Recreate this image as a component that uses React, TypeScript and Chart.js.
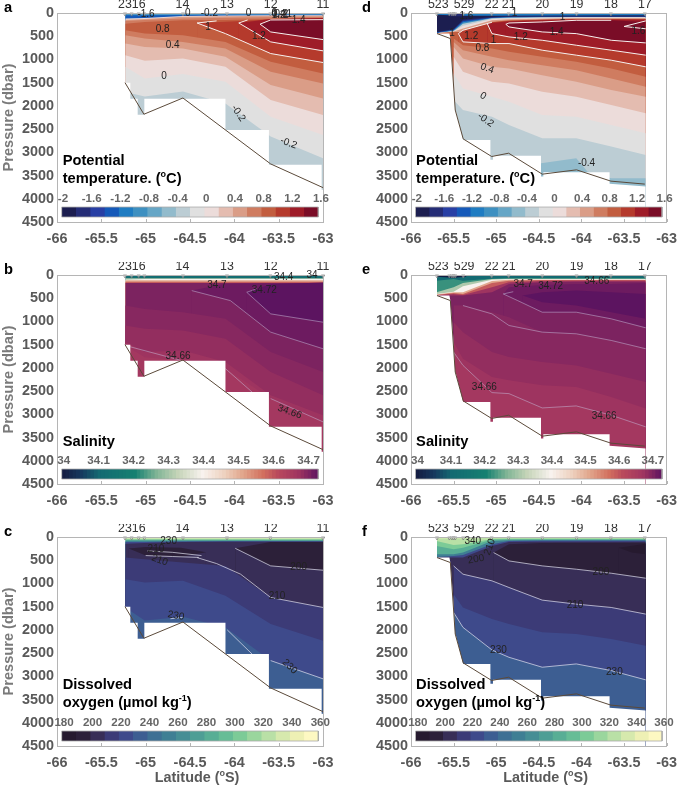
import React, { useEffect, useRef } from "react";
import { Chart, registerables } from "chart.js";

Chart.register(...registerables);

type Edge = [number, number[], number[]];
type Label = [number, number, string, number?];

// ---------- section latitudes ----------
const latsWest = [-65.23, -65.01, -64.58, -64.1, -63.59, -63.0];
const latsEast = [-65.7, -65.5, -65.39, -65.05, -64.85, -64.46, -64.06, -63.65, -63.245];
const latsEast1 = latsEast.slice(1);

// ---------- colour tables ----------
const thetaColors = ["#1c1e50", "#252d76", "#283fa5", "#1559b9", "#1f7cc2", "#3e90c1", "#66a6c6", "#92bbcc", "#bccdd4", "#e0e0e0", "#ecdcda", "#e4bcb0", "#da9d87", "#cf7c60", "#c25d3f", "#b53a2c", "#9e1c28", "#7a0d27"];
const oxyColors = ["#261a2f", "#2c2039", "#382e57", "#3c3b77", "#3e4a8b", "#3d5e92", "#3e7094", "#3f7f94", "#468e95", "#4e9e95", "#58ae95", "#66bd96", "#7ccb97", "#9ad69d", "#b9e0a6", "#d6e9ad", "#eef0b4", "#fdf8c2"];
const salStops: [number, string][] = [[34, "#141d43"], [34.05, "#17395e"], [34.1, "#146a72"], [34.2, "#158071"], [34.26, "#7fb495"], [34.32, "#c5d4b8"], [34.39, "#f8f2ee"], [34.45, "#eed2c0"], [34.5, "#e2a88e"], [34.56, "#d26f5e"], [34.6, "#b94a5c"], [34.65, "#a43860"], [34.66, "#9e3460"], [34.67, "#932e5f"], [34.68, "#872860"], [34.69, "#7c2360"], [34.7, "#6d1b60"], [34.72, "#5c1460"]];

// ---------- panel a: potential temperature, western section ----------
const thetaAEdges: Edge[] = [
  [-0.4, latsWest, [0, 0, 0, 0, 0, 0]],
  [-0.8, latsWest, [22, 22, 22, 22, 22, 22]],
  [-1.2, latsWest, [40, 40, 35, 30, 30, 30]],
  [-1.4, latsWest, [55, 55, 45, 40, 40, 40]],
  [0, latsWest, [120, 110, 65, 55, 50, 50]],
  [0.4, latsWest, [145, 130, 80, 70, 60, 60]],
  [0.6, latsWest, [172, 150, 120, 100, 90, 85]],
  [0.8, latsWest, [229, 193, 157, 150, 130, 120]],
  [1.0, [-64.42, -64.1, -63.59, -63.0], [215, 190, 140, 110]],
  [1.2, [-63.95, -63.59, -63.0], [215, 130, 110]],
  [1.4, [-63.71, -63.59, -63.0], [240, 150, 143]],
  [1.2, [-63.71, -63.59, -63.0], [240, 408, 572]],
  [1.0, [-63.95, -63.59, -63.0], [215, 622, 815]],
  [0.8, [-64.42, -64.1, -63.59, -63.0], [215, 444, 873, 1066]],
  [0.6, latsWest, [372, 444, 479, 622, 1052, 1302]],
  [0.4, latsWest, [479, 551, 622, 765, 1266, 1517]],
  [0.2, latsWest, [658, 730, 765, 944, 1552, 1839]],
  [0, latsWest, [908, 1030, 980, 1159, 1874, 2196]],
  [-0.2, latsWest, [1159, 1409, 1316, 1481, 2232, 2625]],
  [-0.4, latsWest, [1700, 1800, 1690, 1950, 2660, 3125]],
];
const thetaAContours: [number[], number[]][] = [
  [[-64.42, -64.1, -63.59, -63.0], [215, 444, 873, 1066]],
  [[-64.42, -64.2], [215, 170]],
  [[-63.95, -63.59, -63.0], [215, 622, 815]],
  [[-63.95, -63.85], [215, 150]],
  [[-63.71, -63.59, -63.0], [240, 408, 572]],
  [[-63.71, -63.59, -63.0], [240, 150, 143]],
];
const thetaALabels: Label[] = [[-64.996, 29, "-1.6"], [-64.526, 0, "0"], [-64.282, 0, "-0.2"], [-63.839, 0, "0"], [-63.55, 15, "0"], [-63.5, 20, "0.4"], [-63.47, 20, "0.2"], [-63.42, 45, "1"], [-63.4, 30, "-1"], [-63.5, 50, "1.2"], [-64.808, 358, "0.8"], [-64.297, 300, "1"], [-63.722, 501, "1.2"], [-63.275, 157, "1.4"], [-64.696, 694, "0.4"], [-64.793, 1359, "0"], [-63.955, 2160, "-0.2", 55], [-63.387, 2804, "-0.2", 20]];

// ---------- panel d: potential temperature, eastern section ----------
const thetaDEdges: Edge[] = [
  [-2, latsEast, [0, 0, 0, 0, 0, 0, 0, 0, 0]],
  [-1.8, latsEast, [415, 343, 143, 86, 72, 72, 72, 72, 72]],
  [-1.4, latsEast, [422, 358, 172, 100, 86, 79, 79, 79, 79]],
  [-1.0, latsEast, [429, 372, 200, 107, 93, 86, 86, 86, 86]],
  [-0.4, latsEast, [436, 386, 229, 114, 100, 93, 93, 93, 93]],
  [0, latsEast, [436, 393, 272, 129, 114, 100, 93, 93, 93]],
  [0.4, latsEast, [436, 401, 336, 157, 136, 122, 107, 107, 107]],
  [0.8, latsEast, [436, 408, 408, 193, 157, 143, 129, 129, 129]],
  [1.0, [-65.444, -65.39, -65.05, -64.85, -64.46, -64.06, -63.65, -63.245], [444, 372, 200, 172, 143, 129, 129, 136]],
  [1.2, [-65.105, -65.05, -64.85, -64.46, -64.06, -63.65, -63.245], [229, 215, 179, 157, 143, 143, 143]],
  [1.4, [-64.887, -64.85, -64.46, -64.06, -63.65, -63.245], [243, 215, 193, 157, 157, 193]],
  [1.2, [-64.887, -64.85, -64.46, -64.06, -63.65, -63.245], [243, 300, 408, 444, 587, 644]],
  [1.0, [-65.105, -65.05, -64.85, -64.46, -64.06, -63.65, -63.245], [229, 444, 515, 587, 694, 801, 908]],
  [0.8, [-65.444, -65.39, -65.05, -64.85, -64.46, -64.06, -63.65, -63.245], [444, 622, 658, 658, 801, 908, 1016, 1159]],
  [0.6, latsEast1, [551, 694, 765, 837, 944, 1052, 1195, 1374]],
  [0.4, latsEast1, [622, 801, 944, 1016, 1123, 1230, 1409, 1588]],
  [0.2, latsEast1, [730, 980, 1159, 1195, 1338, 1481, 1660, 1803]],
  [0, latsEast1, [944, 1266, 1481, 1517, 1695, 1803, 1982, 2161]],
  [-0.2, latsEast1, [1302, 1624, 1803, 1910, 2196, 2232, 2411, 2590]],
  [-0.4, latsEast1, [1874, 2089, 2232, 2411, 2697, 2697, 2876, 3055]],
  [-0.6, [-64.474, -64.06, -63.93, -63.65, -63.245], [3234, 3126, 3412, 3556, 3556]],
];
const thetaDLids: Edge[] = [
  [-1.2, [-65.7, -65.39, -65.05, -63.245], [40, 60, 60, 50]],
  [-1.8, [-65.55, -65.39], [70, 70]],
  [0.6, [-65.05, -63.65], [18, 18]],
  [1.0, [-64.3, -63.65], [15, 15]],
];
const thetaDContours: [number[], number[]][] = [
  [[-64.887, -64.85, -64.46, -64.06, -63.65, -63.245], [243, 300, 408, 444, 587, 644]],
  [[-64.887, -64.85, -64.46, -64.06, -63.65], [243, 215, 193, 157, 157]],
  [[-65.105, -65.05, -64.85, -64.46, -64.06, -63.65, -63.245], [229, 444, 515, 587, 694, 801, 908]],
  [[-65.444, -65.39, -65.05, -64.85, -64.46, -64.06, -63.65, -63.245], [444, 622, 658, 658, 801, 908, 1016, 1159]],
  [[-65.444, -65.39, -65.05], [444, 372, 200]],
  [[-63.245, -63.5, -63.245], [170, 290, 340]],
];
const thetaDLabels: Label[] = [[-65.35, 72, "1.6"], [-64.786, 14, "1"], [-64.222, 86, "1"], [-65.519, 444, "1"], [-65.293, 494, "1.2"], [-65.03, 587, "1"], [-64.711, 529, "1.2"], [-64.29, 422, "1.4"], [-63.331, 386, "1.6"], [-65.162, 765, "0.8"], [-65.105, 1195, "0.4", 20], [-65.154, 1789, "0", 30], [-65.124, 2304, "-0.2", 35], [-63.94, 3234, "-0.4"]];

// ---------- panel b: salinity, western section ----------
const salBEdges: Edge[] = [
  [34.12, latsWest, [0, 0, 0, 0, 0, 0]],
  [34.3, latsWest, [70, 70, 70, 70, 70, 70]],
  [34.39, latsWest, [100, 86, 86, 86, 86, 86]],
  [34.5, latsWest, [115, 115, 115, 115, 115, 115]],
  [34.58, latsWest, [143, 143, 143, 143, 143, 143]],
  [34.69, latsWest, [172, 172, 172, 172, 172, 172]],
  [34.7, [-64.48, -64.1, -63.59, -63.0], [336, 190, 180, 172]],
  [34.72, [-63.86, -63.59, -63.0], [372, 200, 160]],
  [34.7, [-63.86, -63.59, -63.0], [372, 837, 1016]],
  [34.69, [-64.48, -64.045, -63.59, -63.0], [336, 551, 1230, 1588]],
  [34.68, latsWest, [658, 730, 801, 944, 1660, 2089]],
  [34.67, latsWest, [1087, 1159, 1195, 1374, 2089, 2590]],
  [34.66, latsWest, [1445, 1660, 1624, 1874, 2590, 3019]],
  [34.65, latsWest, [1517, 1770, 1839, 2017, 2661, 3162]],
];
const salBContours: [number[], number[]][] = [
  [[-63.86, -63.59, -63.0], [372, 837, 1016]],
  [[-63.86, -63.75], [372, 300]],
  [[-64.48, -64.045, -63.59, -63.0], [336, 551, 1230, 1588]],
  [[-65.23, -64.6], [1517, 1839]],
  [[-64.1, -63.8], [2017, 2520]],
  [[-63.59, -63.0], [2661, 3162]],
];
const salBLabels: Label[] = [[-63.444, 50, "34.4"], [-63.124, 0, "34"], [-64.196, 215, "34.7"], [-63.662, 322, "34.72"], [-64.635, 1746, "34.66"], [-63.376, 2947, "34.66", 20]];

// ---------- panel e: salinity, eastern section ----------
const salEEdges: Edge[] = [
  [34.1, latsEast, [0, 0, 0, 0, 0, 0, 0, 0, 0]],
  [34.22, latsEast, [122, 86, 122, 79, 72, 72, 72, 72, 72]],
  [34.3, latsEast, [372, 265, 172, 86, 79, 79, 79, 79, 79]],
  [34.39, latsEast, [408, 358, 243, 100, 86, 86, 86, 86, 86]],
  [34.5, latsEast, [422, 372, 372, 129, 100, 100, 100, 100, 100]],
  [34.58, latsEast, [429, 386, 408, 172, 122, 107, 107, 107, 107]],
  [34.66, latsEast, [436, 408, 429, 265, 157, 129, 122, 122, 122]],
  [34.69, latsEast, [444, 444, 444, 372, 193, 157, 143, 143, 143]],
  [34.7, [-64.917, -64.85, -64.46, -64.06, -63.65, -63.245], [408, 265, 215, 193, 193, 172]],
  [34.72, [-64.69, -64.46, -64.06, -63.65, -63.245], [444, 372, 336, 372, 408]],
  [34.7, [-64.69, -64.46, -64.06, -63.65, -63.245], [444, 587, 658, 801, 944]],
  [34.69, [-64.917, -64.748, -64.46, -64.06, -63.65, -63.245], [408, 551, 801, 801, 944, 1137]],
  [34.68, latsEast1, [658, 658, 801, 908, 1230, 1266, 1409, 1588]],
  [34.67, latsEast1, [1016, 1230, 1660, 1767, 1874, 1946, 2125, 2304]],
  [34.66, latsEast1, [1445, 1803, 2196, 2268, 2375, 2411, 2625, 2876]],
  [34.65, latsEast1, [1660, 1946, 2532, 2554, 2862, 2819, 3019, 3270]],
];
const salELids: Edge[] = [[34.0, [-65.7, -65.5, -65.35], [40, 60, 40]]];
const salEContours: [number[], number[]][] = [
  [[-64.917, -64.748, -64.46, -64.06, -63.65, -63.245], [408, 551, 801, 801, 944, 1137]],
  [[-64.917, -64.8], [408, 360]],
  [[-65.39, -65.05, -64.85, -64.46, -64.06, -63.65, -63.245], [658, 837, 1087, 1230, 1266, 1409, 1588]],
  [latsEast1, [1660, 1946, 2532, 2554, 2862, 2819, 3019, 3270]],
];
const salELabels: Label[] = [[-64.684, 193, "34.7"], [-64.361, 250, "34.72"], [-63.82, 136, "34.66"], [-65.139, 2418, "34.66"], [-63.733, 3033, "34.66"]];

// ---------- panel c: dissolved oxygen, western section ----------
const oxyCEdges: Edge[] = [
  [350, latsWest, [0, 0, 0, 0, 0, 0]],
  [310, latsWest, [30, 30, 30, 30, 30, 30]],
  [280, latsWest, [57, 57, 57, 57, 57, 57]],
  [250, latsWest, [79, 79, 79, 79, 79, 79]],
  [220, latsWest, [108, 108, 95, 90, 90, 90]],
  [200, latsWest, [143, 130, 110, 100, 100, 100]],
  [190, [-65.19, -65.0, -64.6, -64.32], [250, 215, 230, 330]],
  [200, [-65.19, -65.0, -64.6, -64.32], [250, 400, 430, 330]],
  [190, [-63.99, -63.59, -63.0], [243, 110, 108]],
  [200, [-63.99, -63.59, -63.0], [243, 622, 715]],
  [210, latsWest, [444, 479, 551, 622, 1302, 1517]],
  [220, latsWest, [908, 980, 944, 1266, 1874, 2232]],
  [230, latsWest, [1517, 1800, 1717, 1946, 2661, 3054]],
];
const oxyCContours: [number[], number[]][] = [
  [[-63.99, -63.59, -63.0], [243, 622, 715]],
  [[-64.42, -64.2, -63.93, -63.59, -63.0], [444, 572, 800, 1302, 1517]],
  [[-64.98, -64.7, -64.37], [300, 330, 400]],
  [[-65.0, -64.7, -64.4], [400, 420, 440]],
  [[-64.72, -64.58], [1760, 1731]],
  [[-64.08, -63.8], [2000, 2520]],
  [[-63.59, -63.0], [2661, 3054]],
];
const oxyCLabels: Label[] = [[-64.741, 100, "230"], [-64.884, 265, "210"], [-64.842, 501, "210", 20], [-63.275, 644, "200"], [-63.519, 1266, "210"], [-64.658, 1695, "230", 10], [-63.376, 2790, "230", 45]];

// ---------- panel f: dissolved oxygen, eastern section ----------
const oxyFEdges: Edge[] = [
  [350, latsEast, [0, 0, 0, 0, 0, 0, 0, 0, 0]],
  [320, latsEast, [25, 25, 25, 22, 22, 22, 22, 22, 22]],
  [300, latsEast, [86, 172, 157, 43, 36, 36, 36, 36, 36]],
  [280, latsEast, [193, 265, 229, 57, 50, 50, 50, 50, 50]],
  [250, latsEast, [372, 372, 336, 86, 72, 64, 64, 64, 64]],
  [220, latsEast, [429, 408, 386, 157, 86, 79, 79, 79, 79]],
  [200, latsEast, [444, 444, 444, 193, 107, 100, 100, 100, 100]],
  [190, [-65.03, -64.85, -64.46, -63.245], [336, 157, 129, 122]],
  [180, [-63.56, -63.245], [229, 143]],
  [190, [-63.56, -63.41, -63.245], [229, 336, 372]],
  [200, [-65.03, -64.85, -64.46, -64.06, -63.65, -63.245], [336, 515, 622, 694, 780, 887]],
  [210, latsEast1, [622, 801, 944, 1087, 1359, 1445, 1517, 1660]],
  [220, latsEast1, [1230, 1517, 1767, 1874, 2053, 2089, 2196, 2339]],
  [230, latsEast1, [1624, 1946, 2432, 2590, 2804, 2733, 2876, 3076]],
];
const oxyFContours: [number[], number[]][] = [
  [[-65.03, -64.85, -64.46, -64.06, -63.65, -63.245], [336, 515, 622, 694, 780, 887]],
  [latsEast1, [622, 801, 944, 1087, 1359, 1445, 1517, 1660]],
  [latsEast1, [1624, 1946, 2432, 2590, 2804, 2733, 2876, 3076]],
];
const oxyFLabels: Label[] = [[-65.275, 100, "340"], [-65.075, 215, "210", -70], [-65.237, 479, "200", -10], [-63.771, 765, "200"], [-64.075, 1459, "210"], [-64.974, 2447, "230"], [-63.613, 2912, "230"]];

// ---------- stations ----------
const stationsWest = [-65.233, -65.158, -65.079, -65.015, -64.579, -64.083, -63.594, -63.0];
const stationsEast = [-65.695, -65.55, -65.52, -65.5, -65.48, -65.387, -65.053, -64.854, -64.459, -64.057, -63.654, -63.256];
const stationTicksWest = [-65.233, -65.079, -64.585, -64.083, -63.59, -63.0];
const stationNamesWest = ["23", "16", "14", "13", "12", "11"];
const stationTicksEast = [-65.68, -65.376, -65.053, -64.854, -64.459, -64.057, -63.654, -63.256];
const stationNamesEast = ["523", "529", "22", "21", "20", "19", "18", "17"];

// ---------- sea floor and blanked cells ----------
const bathyWestLat = [-65.233, -65.02, -64.58, -63.59, -63.0];
const bathyWestP = [1500, 2180, 1830, 3250, 3760];
const bathyEastLat = [-65.695, -65.538, -65.481, -65.387, -65.053, -64.854, -64.459, -64.057, -63.654, -63.256];
const bathyEastP = [443, 550, 2089, 2711, 3090, 3019, 3470, 3377, 3620, 3684];
const blankWestLat = [-66, -65.233, -65.233, -65.173, -65.173, -65.09, -65.09, -65.015, -65.015, -64.1, -64.1, -63.61, -63.61, -63.015, -63.015, -63];
const blankWestP = [0, 0, 1502, 1502, 1845, 1845, 2190, 2190, 1845, 1845, 2518, 2518, 3270, 3270, 3806, 3806];
const blankEastLat = [-66, -65.695, -65.695, -65.549, -65.538, -65.508, -65.481, -65.474, -65.474, -65.387, -65.068, -65.068, -65.038, -65.038, -64.474, -64.474, -64.447, -64.447, -63.669, -63.669, -63.245];
const blankEastP = [0, 0, 444, 444, 551, 1230, 2089, 2110, 2110, 2733, 2733, 3162, 3162, 3076, 3076, 3520, 3520, 3427, 3427, 3677, 3734];

// ---------- colour bar ticks ----------
const thetaTicks = ["-2", "-1.6", "-1.2", "-0.8", "-0.4", "0", "0.4", "0.8", "1.2", "1.6"];
const salTicks = ["34", "34.1", "34.2", "34.3", "34.4", "34.5", "34.6", "34.7"];
const oxyTicks = ["180", "200", "220", "240", "260", "280", "300", "320", "340", "360"];
const thetaLevels = Array.from({ length: 18 }, (_, i) => -2 + i * 0.2);
const oxyLevels = Array.from({ length: 18 }, (_, i) => 180 + i * 10);
const salLevels = Array.from({ length: 72 }, (_, i) => 34 + i * 0.01);

// ---------- helpers ----------
const thetaColor = (v: number) => thetaColors[Math.max(0, Math.min(17, Math.round((v + 2) * 5)))];
const oxyColor = (v: number) => oxyColors[Math.max(0, Math.min(17, Math.round((v - 180) / 10)))];
const hex = (c: string) => [1, 3, 5].map((i) => parseInt(c.slice(i, i + 2), 16));
const salColor = (v: number) => {
  for (let i = 0; i < salStops.length - 1; i++) {
    const [a, ca] = salStops[i];
    const [b, cb] = salStops[i + 1];
    if (v <= b + 1e-9) {
      const t = Math.max(0, (v - a) / (b - a));
      const A = hex(ca);
      const B = hex(cb);
      return `rgb(${A.map((q, k) => Math.round(q + (B[k] - q) * t)).join(",")})`;
    }
  }
  return salStops[salStops.length - 1][1];
};
const zip = (xs: number[], ys: number[]) => xs.map((x, i) => ({ x, y: ys[i] }));
const AXIS = "#b5b5b5";
const GRAY = "#595959";
const SANS = "'Liberation Sans', Arial, sans-serif";

type PanelCfg = {
  letter: string;
  left: number;
  top: number;
  width: number;
  axisLeft: number;
  padRight: number;
  letterX: number;
  yTitle: boolean;
  xTitle: boolean;
  edges: Edge[];
  lids: Edge[];
  color: (v: number) => string;
  contours: [number[], number[]][];
  contourColor: string;
  labels: Label[];
  levels: number[];
  cbTicks: string[];
  cbTickLat: [number, number];
  stations: number[];
  stationTicks: number[];
  stationNames: string[];
  bathyLat: number[];
  bathyP: number[];
  blankLat: number[];
  blankP: number[];
  title: string[][];
  titleLat: number;
  titleP: number[];
};

const SAL_LINE = "rgba(200,190,220,0.5)";
const OXY_LINE = "rgba(225,225,240,0.7)";
const THETA_LINE = "#f6f0ee";

const panels: PanelCfg[] = [
  { letter: "a", left: 0, top: 0, width: 342, axisLeft: 57, padRight: 19, letterX: 4, yTitle: true, xTitle: false, edges: thetaAEdges, lids: [], color: thetaColor, contours: thetaAContours, contourColor: THETA_LINE, labels: thetaALabels, levels: thetaLevels, cbTicks: thetaTicks, cbTickLat: [-65.932, -63.023], stations: stationsWest, stationTicks: stationTicksWest, stationNames: stationNamesWest, bathyLat: bathyWestLat, bathyP: bathyWestP, blankLat: blankWestLat, blankP: blankWestP, title: [["Potential"], ["temperature. (", "o", "C)"]], titleLat: -65.936, titleP: [3176, 3570] },
  { letter: "b", left: 0, top: 262, width: 342, axisLeft: 57, padRight: 19, letterX: 4, yTitle: true, xTitle: false, edges: salBEdges, lids: [], color: salColor, contours: salBContours, contourColor: SAL_LINE, labels: salBLabels, levels: salLevels, cbTicks: salTicks, cbTickLat: [-65.925, -63.162], stations: stationsWest, stationTicks: stationTicksWest, stationNames: stationNamesWest, bathyLat: bathyWestLat, bathyP: bathyWestP, blankLat: blankWestLat, blankP: blankWestP, title: [["Salinity"]], titleLat: -65.936, titleP: [3591] },
  { letter: "c", left: 0, top: 524, width: 342, axisLeft: 57, padRight: 19, letterX: 4, yTitle: true, xTitle: true, edges: oxyCEdges, lids: [], color: oxyColor, contours: oxyCContours, contourColor: OXY_LINE, labels: oxyCLabels, levels: oxyLevels, cbTicks: oxyTicks, cbTickLat: [-65.92, -63.03], stations: stationsWest, stationTicks: stationTicksWest, stationNames: stationNamesWest, bathyLat: bathyWestLat, bathyP: bathyWestP, blankLat: blankWestLat, blankP: blankWestP, title: [["Dissolved"], ["oxygen (µmol kg", "-1", ")"]], titleLat: -65.936, titleP: [3176, 3570] },
  { letter: "d", left: 342, top: 0, width: 343, axisLeft: 69, padRight: 9, letterX: 20, yTitle: false, xTitle: false, edges: thetaDEdges, lids: thetaDLids, color: thetaColor, contours: thetaDContours, contourColor: THETA_LINE, labels: thetaDLabels, levels: thetaLevels, cbTicks: thetaTicks, cbTickLat: [-65.932, -63.023], stations: stationsEast, stationTicks: stationTicksEast, stationNames: stationNamesEast, bathyLat: bathyEastLat, bathyP: bathyEastP, blankLat: blankEastLat, blankP: blankEastP, title: [["Potential"], ["temperature. (", "o", "C)"]], titleLat: -65.94, titleP: [3176, 3570] },
  { letter: "e", left: 342, top: 262, width: 343, axisLeft: 69, padRight: 9, letterX: 20, yTitle: false, xTitle: false, edges: salEEdges, lids: salELids, color: salColor, contours: salEContours, contourColor: SAL_LINE, labels: salELabels, levels: salLevels, cbTicks: salTicks, cbTickLat: [-65.925, -63.162], stations: stationsEast, stationTicks: stationTicksEast, stationNames: stationNamesEast, bathyLat: bathyEastLat, bathyP: bathyEastP, blankLat: blankEastLat, blankP: blankEastP, title: [["Salinity"]], titleLat: -65.94, titleP: [3591] },
  { letter: "f", left: 342, top: 524, width: 343, axisLeft: 69, padRight: 9, letterX: 20, yTitle: false, xTitle: true, edges: oxyFEdges, lids: [], color: oxyColor, contours: oxyFContours, contourColor: OXY_LINE, labels: oxyFLabels, levels: oxyLevels, cbTicks: oxyTicks, cbTickLat: [-65.92, -63.03], stations: stationsEast, stationTicks: stationTicksEast, stationNames: stationNamesEast, bathyLat: bathyEastLat, bathyP: bathyEastP, blankLat: blankEastLat, blankP: blankEastP, title: [["Dissolved"], ["oxygen (µmol kg", "-1", ")"]], titleLat: -65.94, titleP: [3176, 3570] },
];

const CB_LEFT = -65.947;
const CB_RIGHT = -63.053;
const CB_TOP = 4178;
const CB_BOTTOM = 4393;

function buildDatasets(p: PanelCfg) {
  const band = (pts: { x: number; y: number }[], color: string, to: number) => ({
    data: pts,
    backgroundColor: color,
    borderColor: "transparent",
    borderWidth: 0,
    pointRadius: 0,
    tension: 0,
    fill: { value: to },
    xAxisID: "x",
    yAxisID: "y",
  });
  const stroke = (pts: { x: number; y: number }[], color: string, width: number) => ({
    data: pts,
    borderColor: color,
    backgroundColor: "transparent",
    borderWidth: width,
    pointRadius: 0,
    tension: 0,
    fill: false,
    xAxisID: "x",
    yAxisID: "y",
  });
  const paint: any[] = [];
  for (const [v, lats, ps] of p.edges) paint.push(band(zip(lats, ps), p.color(v), 4500));
  for (const [v, lats, ps] of p.lids) paint.push(band(zip(lats, ps), p.color(v), 0));
  for (const [lats, ps] of p.contours) paint.push(stroke(zip(lats, ps), p.contourColor, 1));
  paint.push(band(zip(p.blankLat, p.blankP), "#ffffff", 4500));
  paint.push(stroke(zip(p.bathyLat, p.bathyP), "#5b4a3a", 1));
  paint.push({
    data: p.stations.map((x) => ({ x, y: 22 })),
    showLine: false,
    pointStyle: "triangle",
    rotation: 180,
    pointRadius: 2,
    pointBorderWidth: 0.7,
    pointBorderColor: "#777777",
    pointBackgroundColor: "rgba(255,255,255,0.4)",
    clip: false,
    xAxisID: "x",
    yAxisID: "y",
  });
  const n = p.levels.length;
  p.levels.forEach((v, i) => {
    const x0 = CB_LEFT + ((CB_RIGHT - CB_LEFT) * i) / n;
    paint.push(band(zip([x0, CB_RIGHT], [CB_TOP, CB_TOP]), p.color(v), CB_BOTTOM));
  });
  paint.push(stroke(zip([CB_LEFT, CB_RIGHT, CB_RIGHT, CB_LEFT, CB_LEFT], [CB_TOP, CB_TOP, CB_BOTTOM, CB_BOTTOM, CB_TOP]), "#aaaaaa", 0.8));
  return paint.reverse();
}

function annotate(p: PanelCfg) {
  return {
    id: "panelText" + p.letter,
    afterDraw(chart: any) {
      const ctx = chart.ctx;
      const xs = chart.scales.x;
      const ys = chart.scales.y;
      const area = chart.chartArea;
      ctx.save();
      // inward tick marks on the bottom axis
      ctx.strokeStyle = AXIS;
      ctx.lineWidth = 1;
      for (const t of xs.ticks) {
        const px = Math.round(xs.getPixelForValue(t.value)) + 0.5;
        ctx.beginPath();
        ctx.moveTo(px, area.bottom);
        ctx.lineTo(px, area.bottom - 3);
        ctx.stroke();
      }
      ctx.textBaseline = "middle";
      // contour labels
      ctx.font = `10px ${SANS}`;
      ctx.fillStyle = "#222222";
      ctx.textAlign = "center";
      for (const [lat, pr, text, rot] of p.labels) {
        ctx.save();
        ctx.translate(xs.getPixelForValue(lat), ys.getPixelForValue(pr));
        if (rot) ctx.rotate((rot * Math.PI) / 180);
        ctx.fillText(text, 0, 0);
        ctx.restore();
      }
      // colour bar tick labels
      ctx.font = `bold 11.6px ${SANS}`;
      ctx.fillStyle = "#666666";
      const m = p.cbTicks.length - 1;
      p.cbTicks.forEach((text, i) => {
        const lat = p.cbTickLat[0] + ((p.cbTickLat[1] - p.cbTickLat[0]) * i) / m;
        ctx.fillText(text, xs.getPixelForValue(lat), ys.getPixelForValue(4006));
      });
      // variable title, superscript in the odd segments
      ctx.textAlign = "left";
      ctx.fillStyle = "#000000";
      p.title.forEach((segs, li) => {
        let x = xs.getPixelForValue(p.titleLat);
        const y = ys.getPixelForValue(p.titleP[li]);
        segs.forEach((s, k) => {
          const sup = k % 2 === 1;
          ctx.font = `bold ${sup ? 9 : 14.7}px ${SANS}`;
          ctx.fillText(s, x, sup ? y - 4 : y);
          x += ctx.measureText(s).width;
        });
      });
      // panel letter
      ctx.font = `bold 14.7px ${SANS}`;
      ctx.fillText(p.letter, p.letterX, 8);
      // x axis title
      if (p.xTitle) {
        ctx.fillStyle = GRAY;
        const segs = ["Latitude (", "o", "S)"];
        const fontOf = (k: number) => `bold ${k === 1 ? 9 : 14.4}px ${SANS}`;
        let total = 0;
        segs.forEach((s, k) => {
          ctx.font = fontOf(k);
          total += ctx.measureText(s).width;
        });
        let x = xs.getPixelForValue(-64.42) - total / 2;
        segs.forEach((s, k) => {
          ctx.font = fontOf(k);
          ctx.fillText(s, x, k === 1 ? 250 : 254);
          x += ctx.measureText(s).width;
        });
      }
      ctx.restore();
    },
  };
}

function Panel({ cfg }: { cfg: PanelCfg }) {
  const ref = useRef<HTMLCanvasElement | null>(null);
  useEffect(() => {
    if (!ref.current) return;
    const tickFont = { family: SANS, size: 14.4, weight: "bold" as const };
    const noGrid = { display: false, drawTicks: false };
    const chart = new Chart(ref.current, {
      type: "line",
      data: { datasets: buildDatasets(cfg) },
      plugins: [annotate(cfg)],
      options: {
        animation: false,
        responsive: false,
        devicePixelRatio: 1,
        layout: { autoPadding: false, padding: { left: 0, right: cfg.padRight, top: 0, bottom: 0 } },
        plugins: { legend: { display: false }, tooltip: { enabled: false }, title: { display: false } },
        events: [],
        scales: {
          x: {
            type: "linear",
            position: "bottom",
            min: -66,
            max: -63,
            afterFit: (s: any) => { s.height = 40; },
            grid: noGrid,
            border: { color: AXIS, z: 5, width: 1 },
            ticks: { stepSize: 0.5, autoSkip: false, maxRotation: 0, padding: 8, color: GRAY, font: tickFont, callback: (v: any) => String(v) },
          },
          xTop: {
            type: "linear",
            position: "top",
            min: -66,
            max: -63,
            afterFit: (s: any) => { s.height = 13; },
            afterBuildTicks: (s: any) => { s.ticks = cfg.stationTicks.map((value) => ({ value })); },
            grid: noGrid,
            border: { color: AXIS, z: 5, width: 1 },
            ticks: { autoSkip: false, maxRotation: 0, padding: 1, color: "#333333", font: { family: SANS, size: 12.4 }, callback: (_v: any, i: number) => cfg.stationNames[i] },
          },
          y: {
            type: "linear",
            position: "left",
            reverse: true,
            min: 0,
            max: 4500,
            afterFit: (s: any) => { s.width = cfg.axisLeft; },
            grid: noGrid,
            border: { color: AXIS, z: 5, width: 1 },
            title: { display: cfg.yTitle, text: "Pressure (dbar)", color: "#7a7a7a", font: { family: SANS, size: 14.6, weight: "bold" }, padding: { top: 0, bottom: 0 } },
            ticks: { stepSize: 500, autoSkip: false, padding: 3, color: GRAY, font: tickFont, callback: (v: any) => String(v) },
          },
          yRight: {
            type: "linear",
            position: "right",
            reverse: true,
            min: 0,
            max: 4500,
            afterFit: (s: any) => { s.width = 0; },
            grid: noGrid,
            border: { color: AXIS, z: 5, width: 1 },
            ticks: { display: false },
          },
        },
      } as any,
    } as any);
    return () => chart.destroy();
  }, [cfg]);
  return (
    <canvas
      ref={ref}
      width={cfg.width}
      height={262}
      style={{ position: "absolute", left: cfg.left, top: cfg.top, width: cfg.width, height: 262 }}
    />
  );
}

export default function App() {
  return (
    <div style={{ position: "absolute", left: 0, top: 0, width: 685, height: 786, overflow: "hidden", background: "#ffffff" }}>
      {panels.map((p) => (
        <Panel key={p.letter} cfg={p} />
      ))}
    </div>
  );
}
